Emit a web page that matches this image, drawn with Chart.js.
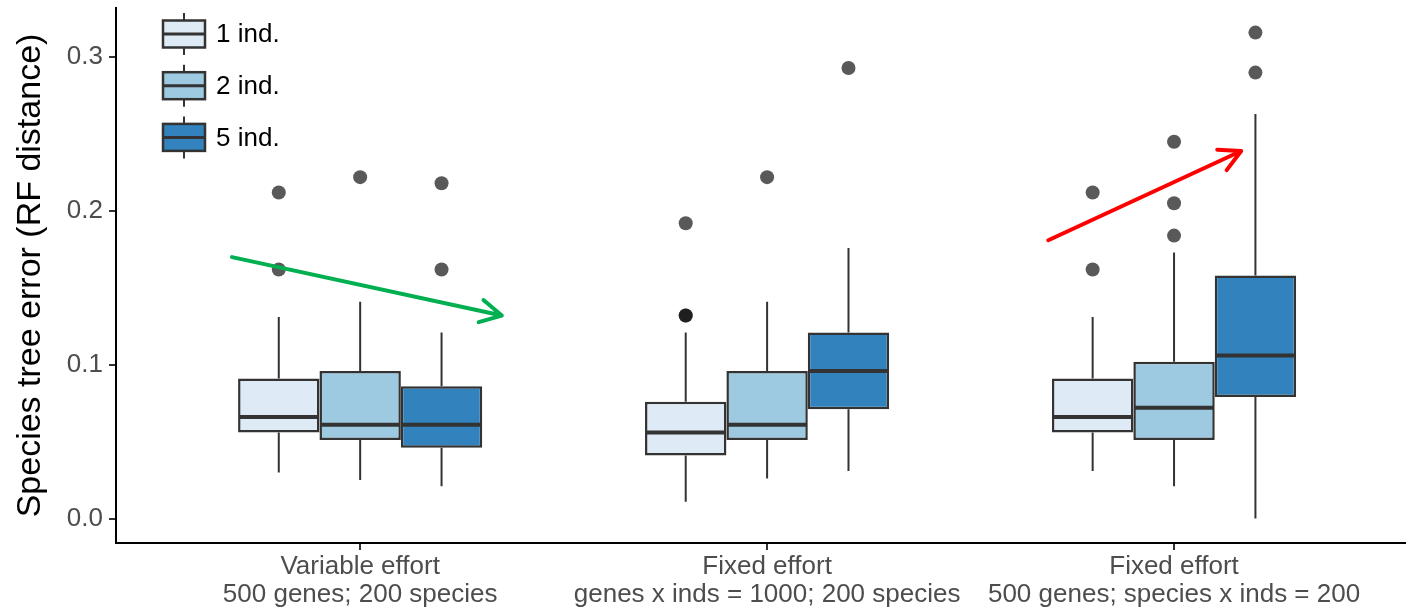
<!DOCTYPE html>
<html>
<head>
<meta charset="utf-8">
<title>Species tree error</title>
<script src="https://cdn.jsdelivr.net/npm/chart.js@4.4.1/dist/chart.umd.min.js"></script>
<style>
    html, body { margin: 0; padding: 0; background: #ffffff; }
    #wrap { width: 1406px; height: 611px; }
</style>
</head>
<body>
<div id="wrap"><canvas id="chart" width="1406" height="611"></canvas></div>
<script>
// ==== Data ====
const groupLabels = [
    ['Variable effort', '500 genes; 200 species'],
    ['Fixed effort', 'genes x inds = 1000; 200 species'],
    ['Fixed effort', '500 genes; species x inds = 200']
];
const seriesNames = ['1 ind.', '2 ind.', '5 ind.'];
const seriesColors = ['#deebf7', '#9ecae1', '#3182bd'];
const yTicks = [0.0, 0.1, 0.2, 0.3];

// one row per series, one value per group
const whiskerLow = [
    [0.030, 0.011, 0.031],
    [0.025, 0.026, 0.021],
    [0.021, 0.031, 0.000]
];
const q1Values = [
    [0.056, 0.041, 0.056],
    [0.051, 0.051, 0.051],
    [0.046, 0.071, 0.079]
];
const medianValues = [
    [0.066, 0.056, 0.066],
    [0.061, 0.061, 0.072],
    [0.061, 0.096, 0.106]
];
const q3Values = [
    [0.091, 0.076, 0.091],
    [0.096, 0.096, 0.102],
    [0.086, 0.121, 0.158]
];
const whiskerHigh = [
    [0.131, 0.121, 0.131],
    [0.141, 0.141, 0.173],
    [0.121, 0.176, 0.263]
];
const outlierValues = [
    [[0.212, 0.162], [0.192, 0.132, 0.132], [0.212, 0.162]],
    [[0.222], [0.222], [0.245, 0.205, 0.184]],
    [[0.218, 0.162], [0.293], [0.316, 0.290]]
];

// arrows, in [group position, value]
const greenArrow = [[-0.315, 0.170], [0.348, 0.132]];
const redArrow = [[1.691, 0.181], [2.165, 0.239]];

const EDGE = '#333333';
const FONT = '"Liberation Sans", Arial, Helvetica, sans-serif';

// ==== Box plot pieces ====
const boxPlotPlugin = {
    id: 'boxPlot',
    beforeDatasetsDraw(chart) {
        const ctx = chart.ctx;
        const y = chart.scales.y;
        ctx.save();
        ctx.strokeStyle = EDGE;
        ctx.lineWidth = 2;
        chart.data.datasets.forEach((ds, s) => {
            chart.getDatasetMeta(s).data.forEach((bar, g) => {
                ctx.beginPath();
                ctx.moveTo(bar.x, y.getPixelForValue(whiskerHigh[s][g]));
                ctx.lineTo(bar.x, y.getPixelForValue(q3Values[s][g]));
                ctx.moveTo(bar.x, y.getPixelForValue(q1Values[s][g]));
                ctx.lineTo(bar.x, y.getPixelForValue(whiskerLow[s][g]));
                ctx.stroke();
            });
        });
        ctx.restore();
    },
    afterDatasetsDraw(chart) {
        const ctx = chart.ctx;
        const y = chart.scales.y;
        ctx.save();
        chart.data.datasets.forEach((ds, s) => {
            chart.getDatasetMeta(s).data.forEach((bar, g) => {
                const half = bar.width / 2;
                const my = y.getPixelForValue(medianValues[s][g]);
                ctx.strokeStyle = EDGE;
                ctx.lineWidth = 4;
                ctx.beginPath();
                ctx.moveTo(bar.x - half + 1, my);
                ctx.lineTo(bar.x + half - 1, my);
                ctx.stroke();

                ctx.fillStyle = 'rgba(0, 0, 0, 0.65)';
                outlierValues[s][g].forEach(v => {
                    ctx.beginPath();
                    ctx.arc(bar.x, y.getPixelForValue(v), 7, 0, Math.PI * 2);
                    ctx.fill();
                });
            });
        });
        ctx.restore();
    }
};

// ==== Legend and arrows ====
function drawArrow(ctx, chart, pts, color) {
    const x = chart.scales.x, y = chart.scales.y;
    const x0 = x.getPixelForValue(pts[0][0]), y0 = y.getPixelForValue(pts[0][1]);
    const x1 = x.getPixelForValue(pts[1][0]), y1 = y.getPixelForValue(pts[1][1]);
    const ang = Math.atan2(y1 - y0, x1 - x0);
    const len = 24, spread = 28 * Math.PI / 180;
    ctx.save();
    ctx.strokeStyle = color;
    ctx.lineWidth = 4;
    ctx.lineCap = 'round';
    ctx.lineJoin = 'round';
    ctx.beginPath();
    ctx.moveTo(x0, y0);
    ctx.lineTo(x1, y1);
    ctx.moveTo(x1 - len * Math.cos(ang - spread), y1 - len * Math.sin(ang - spread));
    ctx.lineTo(x1, y1);
    ctx.lineTo(x1 - len * Math.cos(ang + spread), y1 - len * Math.sin(ang + spread));
    ctx.stroke();
    ctx.restore();
}

const extrasPlugin = {
    id: 'extras',
    afterDraw(chart) {
        const ctx = chart.ctx;
        drawArrow(ctx, chart, greenArrow, '#00b050');
        drawArrow(ctx, chart, redArrow, '#ff0000');

        // ggplot style legend keys
        const keyX = 163, keyW = 42, rowH = 51.7, topY = 34;
        ctx.save();
        seriesNames.forEach((name, i) => {
            const cy = topY + i * rowH;
            const cx = keyX + keyW / 2;
            ctx.strokeStyle = EDGE;
            ctx.lineWidth = 2;
            ctx.beginPath();
            ctx.moveTo(cx, cy - 21);
            ctx.lineTo(cx, cy + 21);
            ctx.stroke();
            ctx.fillStyle = seriesColors[i];
            ctx.fillRect(keyX, cy - 13.5, keyW, 27);
            ctx.lineWidth = 2.5;
            ctx.strokeRect(keyX, cy - 13.5, keyW, 27);
            ctx.lineWidth = 3;
            ctx.beginPath();
            ctx.moveTo(keyX, cy);
            ctx.lineTo(keyX + keyW, cy);
            ctx.stroke();
            ctx.fillStyle = '#000000';
            ctx.font = '26px ' + FONT;
            ctx.textBaseline = 'middle';
            ctx.textAlign = 'left';
            ctx.fillText(name, keyX + keyW + 11, cy + 1);
        });
        ctx.restore();
    }
};

// ==== Chart ====
const datasets = seriesNames.map((name, s) => ({
    label: name,
    data: groupLabels.map((_, g) => ({ x: g, y: [q1Values[s][g], q3Values[s][g]] })),
    backgroundColor: seriesColors[s],
    borderColor: EDGE,
    borderWidth: 2.5,
    borderSkipped: false,
    categoryPercentage: 0.6,
    barPercentage: 1.0
}));

new Chart(document.getElementById('chart'), {
    type: 'bar',
    data: { datasets },
    plugins: [boxPlotPlugin, extrasPlugin],
    options: {
        responsive: false,
        animation: false,
        layout: { padding: { top: 8, right: 0, left: 0, bottom: 0 } },
        plugins: { legend: { display: false }, tooltip: { enabled: false } },
        scales: {
            x: {
                type: 'linear',
                min: -0.6,
                max: 2.57,
                offset: false,
                afterBuildTicks: scale => { scale.ticks = groupLabels.map((_, i) => ({ value: i })); },
                afterFit: scale => { scale.height = 68; scale.paddingLeft = 0; scale.paddingRight = 0; },
                grid: { offset: false, drawOnChartArea: false, drawTicks: true, tickLength: 7, tickColor: EDGE, lineWidth: 2 },
                border: { display: true, color: '#000000', width: 2 },
                ticks: {
                    autoSkip: false,
                    maxRotation: 0,
                    padding: 3,
                    color: '#4d4d4d',
                    font: { family: FONT, size: 26, lineHeight: 1.08 },
                    callback: (v, i) => groupLabels[i]
                }
            },
            y: {
                min: -0.0159,
                max: 0.332,
                afterBuildTicks: scale => { scale.ticks = yTicks.map(v => ({ value: v })); },
                afterFit: scale => { scale.width = 116; scale.paddingTop = 0; scale.paddingBottom = 0; },
                grid: { drawOnChartArea: false, drawTicks: true, tickLength: 7, tickColor: EDGE, lineWidth: 2 },
                border: { display: true, color: '#000000', width: 2 },
                ticks: {
                    padding: 6,
                    color: '#4d4d4d',
                    font: { family: FONT, size: 26 },
                    callback: v => v.toFixed(1)
                },
                title: {
                    display: true,
                    text: 'Species tree error (RF distance)',
                    color: '#000000',
                    font: { family: FONT, size: 34 },
                    padding: { top: 10, bottom: 0 }
                }
            }
        }
    }
});
</script>
</body>
</html>
